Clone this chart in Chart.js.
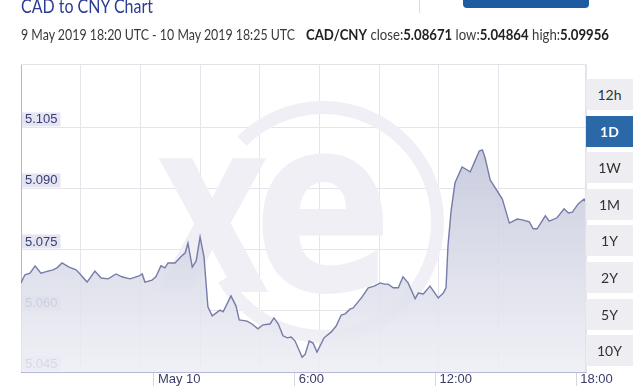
<!DOCTYPE html>
<html>
<head>
<meta charset="utf-8">
<script src="https://cdn.jsdelivr.net/npm/chart.js@4.4.1/dist/chart.umd.min.js"></script>
<style>
  html, body { margin: 0; padding: 0; width: 640px; height: 386px; overflow: hidden; background: #fff; }
  body { position: relative; font-family: Lato, "Open Sans", sans-serif; }
  #wrap { position: absolute; left: 0; top: 0; width: 640px; height: 400px; }
  .txt { position: absolute; white-space: nowrap; display: inline-block; transform-origin: 0 50%; }
  #title { left: 21px; top: -5px; font-size: 20px; line-height: 20px; color: #2b3d92; }
  #subA, #subB { top: 27px; font-size: 15px; line-height: 15px; color: #3a3a3a; }
  #subA { left: 21px; }
  #subB { left: 306px; }
  #subB b { font-weight: 700; color: #222; }
  #sep { position: absolute; left: 419px; top: 0; width: 1px; height: 13px; background: #dcdcdc; }
  #topbtn { position: absolute; left: 463px; top: -4px; width: 126px; height: 12px; border-radius: 4px; background: #1e5ca2; }
  .rb { position: absolute; left: 586px; width: 47px; height: 31px; line-height: 31px; text-align: center;
        background: #eeeef2; color: #333; font-size: 14px; }
  .rb.on { background: #2a68a8; color: #fff; font-weight: 700; }
</style>
</head>
<body>
<div id="wrap"><canvas id="chart" width="640" height="400"></canvas></div>
<div id="title" class="txt">CAD to CNY Chart</div>
<div id="subA" class="txt">9 May 2019 18:20 UTC - 10 May 2019 18:25 UTC</div>
<div id="subB" class="txt"><b>CAD/CNY</b> close:<b>5.08671</b> low:<b>5.04864</b> high:<b>5.09956</b></div>
<div id="sep"></div>
<div id="topbtn"></div>
<div id="ranges"></div>
<script>
// CAD/CNY, 9 May 2019 18:20 UTC - 10 May 2019 18:25 UTC
const times = ['18:20','18:30','18:43','18:56','19:11','19:29','19:42','19:52','20:05','20:23',
  '20:41','20:51','21:09','21:29','21:45','22:03','22:23','22:38','22:59','23:22',
  '23:30','23:37','23:55','00:05','00:18','00:28','00:36','00:54','01:09','01:20',
  '01:27','01:38','01:48','01:58','02:08','02:18','02:29','02:49','02:57','03:17',
  '03:30','03:38','03:58','04:11','04:26','04:39','04:57','05:07','05:18','05:30',
  '05:41','05:51','06:01','06:19','06:27','06:37','06:47','06:57','07:15','07:33',
  '07:46','07:59','08:09','08:22','08:29','08:52','09:08','09:23','09:39','09:49',
  '09:59','10:12','10:25','10:37','10:50','11:08','11:16','11:29','11:46','12:07',
  '12:20','12:27','12:32','12:40','12:50','13:08','13:29','13:39','13:52','14:00',
  '14:07','14:20','14:51','15:09','15:29','15:42','16:00','16:10','16:20','16:41',
  '16:51','17:11','17:29','17:40','17:50','18:05','18:20','18:25'];
const rates = [5.0669,5.0689,5.0693,5.0711,5.0693,5.0698,5.0701,5.0706,5.0718,5.0708,
  5.0701,5.0691,5.0671,5.0698,5.0681,5.0679,5.0691,5.0684,5.0679,5.0686,
  5.0691,5.0671,5.0676,5.0684,5.0711,5.0706,5.0718,5.0718,5.0733,5.0743,
  5.0767,5.0708,5.0723,5.0782,5.0733,5.0610,5.0588,5.0602,5.0598,5.0637,
  5.0612,5.0578,5.0575,5.0568,5.0556,5.0566,5.0568,5.0583,5.0568,5.0539,
  5.0534,5.0536,5.0526,5.0486,5.0494,5.0526,5.0521,5.0499,5.0534,5.0548,
  5.0563,5.0590,5.0593,5.0605,5.0607,5.0634,5.0657,5.0661,5.0669,5.0666,
  5.0666,5.0657,5.0657,5.0684,5.0669,5.0630,5.0644,5.0642,5.0661,5.0632,
  5.0644,5.0657,5.0760,5.0846,5.0915,5.0954,5.0942,5.0964,5.0993,5.0996,
  5.0976,5.0922,5.0875,5.0816,5.0826,5.0824,5.0819,5.0802,5.0802,5.0834,
  5.0821,5.0829,5.0851,5.0841,5.0843,5.0863,5.0875,5.0867];
const yTicks = [5.045, 5.060, 5.075, 5.090, 5.105];
const xTickLabels = ['May 10', '6:00', '12:00', '18:00'];
const xTickMins = [1440, 1800, 2160, 2520];   // minutes from 9 May 00:00
const ranges = ['12h', '1D', '1W', '1M', '1Y', '2Y', '5Y', '10Y'];
const activeRange = '1D';

// clock times -> minutes since 9 May 00:00 (rolls over at midnight)
function toMinutes(list) {
  let day = 0, prev = -1;
  return list.map(t => {
    const [h, m] = t.split(':').map(Number);
    const v = h * 60 + m;
    if (v < prev) day++;
    prev = v;
    return day * 1440 + v;
  });
}
const mins = toMinutes(times);
const points = mins.map((x, i) => ({ x: x, y: rates[i] }));

// range buttons
const rb = document.getElementById('ranges');
ranges.forEach((r, i) => {
  const d = document.createElement('div');
  d.className = 'rb' + (r === activeRange ? ' on' : '');
  d.style.top = (79 + i * 36.6) + 'px';
  d.textContent = r;
  rb.appendChild(d);
});

// squeeze header text to the widths in the picture
function fit(id, w) {
  const el = document.getElementById(id);
  const r = el.getBoundingClientRect().width;
  el.style.transform = 'scaleX(' + (w / r) + ')';
}
fit('title', 132);
fit('subA', 274);
fit('subB', 303);

// faint "xe" logo behind the plot
const watermark = {
  id: 'watermark',
  beforeDatasetsDraw(chart) {
    const ctx = chart.ctx, a = chart.chartArea;
    ctx.save();
    ctx.beginPath();
    ctx.rect(a.left, a.top, a.right - a.left, a.bottom - a.top);
    ctx.clip();
    ctx.strokeStyle = '#efeff5';
    ctx.lineWidth = 13;
    ctx.beginPath();
    ctx.arc(323, 222, 114.5, 225 * Math.PI / 180, 510 * Math.PI / 180);
    ctx.stroke();
    ctx.fillStyle = '#efeff5';
    const glyph = (ch, x0, y0, x1, y1) => {
      ctx.font = 'bold 200px "DejaVu Sans"';
      const m = ctx.measureText(ch);
      const w = m.actualBoundingBoxLeft + m.actualBoundingBoxRight;
      const h = m.actualBoundingBoxAscent + m.actualBoundingBoxDescent;
      ctx.save();
      ctx.translate(x0, y0);
      ctx.scale((x1 - x0) / w, (y1 - y0) / h);
      ctx.fillText(ch, m.actualBoundingBoxLeft, m.actualBoundingBoxAscent);
      ctx.restore();
    };
    glyph('x', 157, 158, 268, 292);
    glyph('e', 262, 155, 383, 295);
    ctx.restore();
  }
};

// light frame on top and right
const frame = {
  id: 'frame',
  afterDraw(chart) {
    const ctx = chart.ctx, a = chart.chartArea;
    ctx.save();
    ctx.strokeStyle = '#e2e2e8';
    ctx.lineWidth = 1;
    ctx.beginPath();
    ctx.moveTo(a.left, a.top + 0.5);
    ctx.lineTo(a.right - 0.5, a.top + 0.5);
    ctx.lineTo(a.right - 0.5, a.bottom);
    ctx.stroke();
    ctx.restore();
  }
};

new Chart(document.getElementById('chart'), {
  type: 'line',
  data: {
    datasets: [{
      data: points,
      borderColor: '#767ca8',
      borderWidth: 1.4,
      pointRadius: 0,
      tension: 0,
      fill: 'start',
      backgroundColor: (c) => {
        const a = c.chart.chartArea;
        if (!a) return 'rgba(200,203,222,0.8)';
        const g = c.chart.ctx.createLinearGradient(0, a.top, 0, a.bottom);
        g.addColorStop(0, 'rgba(178,182,208,0.88)');
        g.addColorStop(1, 'rgba(238,239,245,0.88)');
        return g;
      }
    }]
  },
  options: {
    responsive: false,
    animation: false,
    devicePixelRatio: 1,
    layout: { padding: { left: 21, top: 64, right: 54, bottom: 14 } },
    plugins: { legend: { display: false }, tooltip: { enabled: false } },
    scales: {
      x: {
        type: 'linear', position: 'bottom', min: 1100, max: 2545, z: 1,
        afterBuildTicks: s => { s.ticks = xTickMins.map(v => ({ value: v })); },
        afterFit: s => { s.height = 14; },
        ticks: {
          autoSkip: false, maxRotation: 0, align: 'start', labelOffset: 4, padding: -14,
          color: '#3a3d66', font: { size: 13, family: '"Liberation Sans", Arial, sans-serif' },
          callback: v => xTickLabels[xTickMins.indexOf(v)]
        },
        grid: { drawOnChartArea: false, drawTicks: true, tickLength: 14, color: '#d4d5e2' },
        border: { color: '#b5b8d6' }
      },
      x2: {
        type: 'linear', position: 'top', min: 0, max: 9.469, z: 1,
        afterFit: s => { s.height = 0; },
        ticks: { display: false, stepSize: 1 },
        grid: { color: '#e4e4ea', drawTicks: false },
        border: { display: false }
      },
      y: {
        min: 5.045, max: 5.1207, z: 1,
        afterBuildTicks: s => { s.ticks = yTicks.map(v => ({ value: v })); },
        afterFit: s => { s.width = 0; },
        ticks: {
          mirror: true, padding: 4, labelOffset: -8,
          color: '#383c74', font: { size: 13, lineHeight: 1, family: '"Liberation Sans", Arial, sans-serif' },
          showLabelBackdrop: true, backdropColor: '#e4e5f0',
          backdropPadding: { top: 1, bottom: 0, left: 3, right: 3 },
          callback: v => v.toFixed(3)
        },
        grid: { color: '#e4e4ea', drawTicks: false },
        border: { color: '#b3b6d6' }
      }
    }
  },
  plugins: [watermark, frame]
});
</script>
</body>
</html>
